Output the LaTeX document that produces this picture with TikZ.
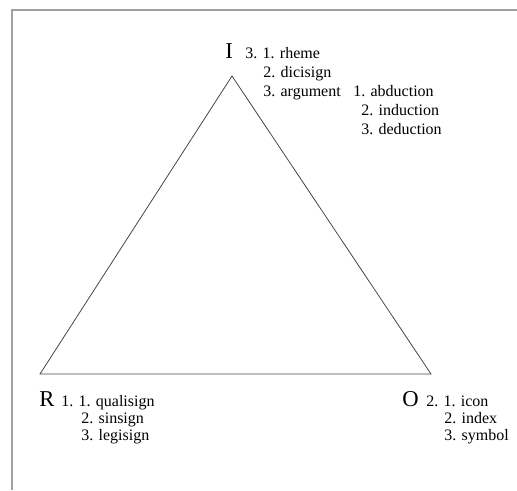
\documentclass[tikz,border=0pt]{standalone}
\usepackage{fontspec}
\setmainfont{Liberation Serif}
\begin{document}
\begin{tikzpicture}[x=0.75pt,y=0.75pt,yscale=-1,xscale=1]
\tikzset{
  lbl/.style={anchor=base west,inner sep=0.75pt,font=\fontsize{12}{14}\selectfont},
  big/.style={anchor=base west,inner sep=0.75pt,font=\fontsize{17}{20}\selectfont},
}
%set diagram size
\useasboundingbox (0,0) rectangle (517,490);

%Frame [id:frame]
\draw [color={rgb, 255:red, 160; green, 160; blue, 160 }, line width=1.2] (12,490) -- (12,10) -- (517,10) ;

%Shape: Triangle [id:tri]
\coordinate (apexI) at (232,76);
\coordinate (vertR) at (40,374);
\coordinate (vertO) at (431,374);
\draw [color={rgb, 255:red, 70; green, 70; blue, 70 }, line width=0.6] (apexI) -- (vertO) -- (vertR) -- cycle ;

% Text Node
\node (I) at (224,58) [big] {I};
% Text Node
\node (I1) at (244,58) [lbl] {3. 1. rheme};
% Text Node
\node (I2) at (262,77) [lbl] {2. dicisign};
% Text Node
\node (I3) at (262,96) [lbl] {3. argument};
% Text Node
\node (A1) at (352,96) [lbl] {1. abduction};
% Text Node
\node (A2) at (360,115) [lbl] {2. induction};
% Text Node
\node (A3) at (360,134) [lbl] {3. deduction};

% Text Node
\node (R) at (38,406) [big] {R};
% Text Node
\node (R1) at (60,406) [lbl] {1. 1. qualisign};
% Text Node
\node (R2) at (80,423) [lbl] {2. sinsign};
% Text Node
\node (R3) at (80,440) [lbl] {3. legisign};

% Text Node
\node (O) at (401,406) [big] {O};
% Text Node
\node (O1) at (425,406) [lbl] {2. 1. icon};
% Text Node
\node (O2) at (443,423) [lbl] {2. index};
% Text Node
\node (O3) at (443,440) [lbl] {3. symbol};

\end{tikzpicture}
\end{document}
